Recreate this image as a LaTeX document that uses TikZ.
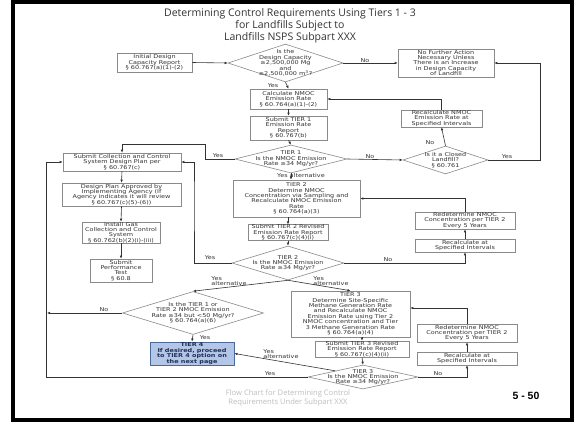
\documentclass[tikz,border=0pt]{standalone}
\usepackage{fontspec}
\usetikzlibrary{shapes.geometric,arrows.meta}
\newfontfamily\chartfont[FakeStretch=1.22]{DejaVu Sans}
\newfontfamily\titlefont{Open Sans}
\newfontfamily\pagefont{Liberation Sans}
\definecolor{inkgray}{HTML}{333333}
\definecolor{boxline}{HTML}{8A8A8A}
\definecolor{tierfill}{HTML}{B4C6E7}
\definecolor{tierline}{HTML}{4A6A9A}
\definecolor{tiertext}{HTML}{1F2F55}

\begin{document}
\begin{tikzpicture}[x=1pt,y=-1pt,
  txt/.style={font=\chartfont\fontsize{5.3}{5.4}\selectfont, text=inkgray, align=center, inner sep=0pt},
  box/.style={txt, rectangle, draw=boxline, line width=0.6pt},
  dia/.style={diamond, draw=boxline, line width=0.6pt, inner sep=0pt},
  arr/.style={draw=inkgray, line width=0.6pt, -{Latex[length=3pt,width=2.6pt]}},
  lbl/.style={txt}
]
\useasboundingbox (0,0) rectangle (574,422);
\fill[white] (0,0) rectangle (574,422);
\draw[line width=4pt] (13,2) rectangle (572,420);

% heading
\node[font=\titlefont\fontsize{10.5}{12}\selectfont, text=inkgray, align=center] (title) at (290,26)
  {Determining Control Requirements Using Tiers 1 - 3\\for Landfills Subject to\\Landfills NSPS Subpart XXX};

% top of the chart
\node[box, minimum width=75, minimum height=19] (init) at (154.5,62.5) {Initial Design\\Capacity Report\\§ 60.767(a)(1)-(2)};
\node[dia, minimum width=115, minimum height=38] (d1) at (285.5,63) {};
\node[txt] (d1t) at (d1.center) {Is the\\Design Capacity\\≥2,500,000 Mg\\and\\≥2,500,000 m\textsuperscript{3}?};
\node[box, minimum width=96, minimum height=28] (nofurther) at (446,63) {No Further Action\\Necessary Unless\\There is an Increase\\in Design Capacity\\of Landfill};
\node[box, minimum width=77, minimum height=20] (calc) at (288.5,99) {Calculate NMOC\\Emission Rate\\§ 60.764(a)(1)-(2)};
\node[box, minimum width=77, minimum height=24] (sub1) at (288.5,128) {Submit TIER 1\\Emission Rate\\Report\\§ 60.767(b)};
\node[box, minimum width=81, minimum height=17] (recalc1) at (441.5,118.5) {Recalculate NMOC\\Emission Rate at\\Specified Intervals};

% tier 1
\node[dia, minimum width=112, minimum height=28] (t1d) at (291,159) {};
\node[txt] (t1dt) at (t1d.center) {TIER 1\\Is the NMOC Emission\\Rate ≥34 Mg/yr?};
\node[dia, minimum width=85, minimum height=28] (closed) at (445.5,160) {};
\node[txt] (closedt) at (closed.center) {Is it a Closed\\Landfill?\\§ 60.761};

% collection and control column
\node[box, minimum width=118, minimum height=18] (subcoll) at (122,162) {Submit Collection and Control\\System Design Plan per\\§ 60.767(c)};
\node[box, minimum width=119, minimum height=23] (approved) at (121.5,194.5) {Design Plan Approved by\\Implementing Agency (If\\Agency indicates it will review\\§ 60.767(c)(5)-(6))};
\node[box, minimum width=78, minimum height=21] (install) at (121,232.5) {Install Gas\\Collection and Control\\System\\§ 60.762(b)(2)(i)-(iii)};
\node[box, minimum width=62, minimum height=23] (perf) at (121,270.5) {Submit\\Performance\\Test\\§ 60.8};

% tier 2
\node[box, minimum width=127, minimum height=37] (t2box) at (296.5,198.5) {TIER 2\\Determine NMOC\\Concentration via Sampling and\\Recalculate NMOC Emission\\Rate\\§ 60.764(a)(3)};
\node[box, minimum width=80, minimum height=15] (sub2) at (288,232.5) {Submit TIER 2 Revised\\Emission Rate Report\\§ 60.767(c)(4)(i)};
\node[dia, minimum width=112, minimum height=34] (t2d) at (288,263) {};
\node[txt] (t2dt) at (t2d.center) {TIER 2\\Is the NMOC Emission\\Rate ≥34 Mg/yr?};
\node[box, minimum width=100, minimum height=17] (redet1) at (465,220.5) {Redetermine NMOC\\Concentration per TIER 2\\Every 5 Years};
\node[box, minimum width=100, minimum height=13] (recalc2) at (465,245.5) {Recalculate at\\Specified Intervals};

% tier 3
\node[box, minimum width=119, minimum height=46] (t3box) at (350.5,314) {TIER 3\\Determine Site-Specific\\Methane Generation Rate\\and Recalculate NMOC\\Emission Rate using Tier 2\\NMOC concentration and Tier\\3 Methane Generation Rate\\§ 60.764(a)(4)};
\node[box, minimum width=94, minimum height=16] (sub3) at (362,349) {Submit TIER 3 Revised\\Emission Rate Report\\§ 60.767(c)(4)(ii)};
\node[dia, minimum width=110, minimum height=24] (t3d) at (363,377) {};
\node[txt] (t3dt) at (t3d.center) {TIER 3\\Is the NMOC Emission\\Rate ≥34 Mg/yr?};
\node[box, minimum width=100, minimum height=18] (redet2) at (467,333) {Redetermine NMOC\\Concentration per TIER 2\\Every 5 Years};
\node[box, minimum width=100, minimum height=13] (recalc3) at (467,358.5) {Recalculate at\\Specified Intervals};

% tier 4 check
\node[dia, minimum width=141, minimum height=43] (t12d) at (193,313) {};
\node[txt] (t12dt) at (t12d.center) {Is the TIER 1 or\\TIER 2 NMOC Emission\\Rate ≥34 but <50 Mg/yr?\\§ 60.764(a)(6)};
\node[box, draw=tierline, fill=tierfill, line width=0.9pt, text=tiertext, font=\chartfont\bfseries\fontsize{5.3}{5.6}\selectfont, minimum width=84, minimum height=23] (t4) at (192,353.5) {TIER 4\\If desired, proceed\\to TIER 4 option on\\the next page};

% bend points
\coordinate (b1) at (205,144);
\coordinate (b2) at (540,63);
\coordinate (b3) at (194,200);
\coordinate (b4) at (46,162);
\coordinate (b5) at (47,313);

% connectors
\draw[arr] (init.east) -- (d1.west);
\draw[arr] (d1.east) -- (nofurther.west);
\draw[arr] (d1.south) -- (calc.north);
\draw[arr] (calc.south) -- (sub1.north);
\draw[arr] (sub1.south) -- (t1d.north);
\draw[arr] (t1d.east) -- (closed.west);
\draw[arr] (closed.north) -- (recalc1.south);
\draw[arr] (recalc1.north) |- (calc.east);
\draw[arr] (closed.east) -| (b2) -- (nofurther.east);
\draw[arr] (t1d.west) -| (b1) -| (subcoll.north);
\draw[arr] (t1d.south) -- (t2box.north -| t1d.south);
\draw[arr] (t2box.south -| sub2.north) -- (sub2.north);
\draw[arr] (sub2.south) -- (t2d.north);
\draw[arr] (t2d.east) -| (recalc2.south);
\draw[arr] (recalc2.north) -- (redet1.south);
\draw[arr] (redet1.north) |- (t2box.east);
\draw[arr] (t2d.west) -| (b3) |- (subcoll.east);
\draw[arr] (t2d.south) -- (t3box.north);
\draw[arr] (t2d.south) -- (t12d.north);
\draw[arr] (subcoll.south) -- (approved.north);
\draw[arr] (approved.south) -- (install.north);
\draw[arr] (install.south) -- (perf.north);
\draw[arr] (t12d.west) -- (b5);
\draw[arr] (t12d.south) -- (t4.north);
\draw[arr] (t3box.south -| sub3.north) -- (sub3.north);
\draw[arr] (sub3.south) -- (t3d.north);
\draw[arr] (t3d.east) -| (recalc3.south);
\draw[arr] (recalc3.north) -- (redet2.south);
\draw[arr] (redet2.north) |- ([yshift=6pt]t3box.east);
\draw[arr] (t3d.west) -| (b4) -- (subcoll.west);
\draw[arr] (t3d.north west) -- (t4.east);

% connector labels
\node[lbl] (l1) at (365,61) {No};
\node[lbl] (l2) at (273,86) {Yes};
\node[lbl] (l3) at (370,157) {No};
\node[lbl] (l4) at (430,143) {No};
\node[lbl] (l5) at (507,157) {Yes};
\node[lbl] (l6) at (218,156) {Yes};
\node[lbl] (l7) at (301,176) {Yes alternative};
\node[lbl] (l8) at (388,260) {No};
\node[lbl] (l9) at (210,258) {Yes};
\node[lbl, align=left] (l10) at (331,281) {Yes\\alternative};
\node[lbl, align=left] (l11) at (229,281) {Yes\\alternative};
\node[lbl] (l12) at (104,310) {No};
\node[lbl] (l13) at (205,338) {Yes};
\node[lbl] (l14) at (438,374) {No};
\node[lbl] (l15) at (270,374) {Yes};
\node[lbl, align=left] (l16) at (281,354) {Yes\\alternative};

% footer
\node[font=\titlefont\fontsize{7.6}{8.6}\selectfont, text=black!25, align=center] (foot) at (288,398)
  {Flow Chart for Determining Control\\Requirements Under Subpart XXX};
\node[font=\pagefont\bfseries\fontsize{10.5}{12}\selectfont] (page) at (526,396) {5 - 50};
\end{tikzpicture}
\end{document}
